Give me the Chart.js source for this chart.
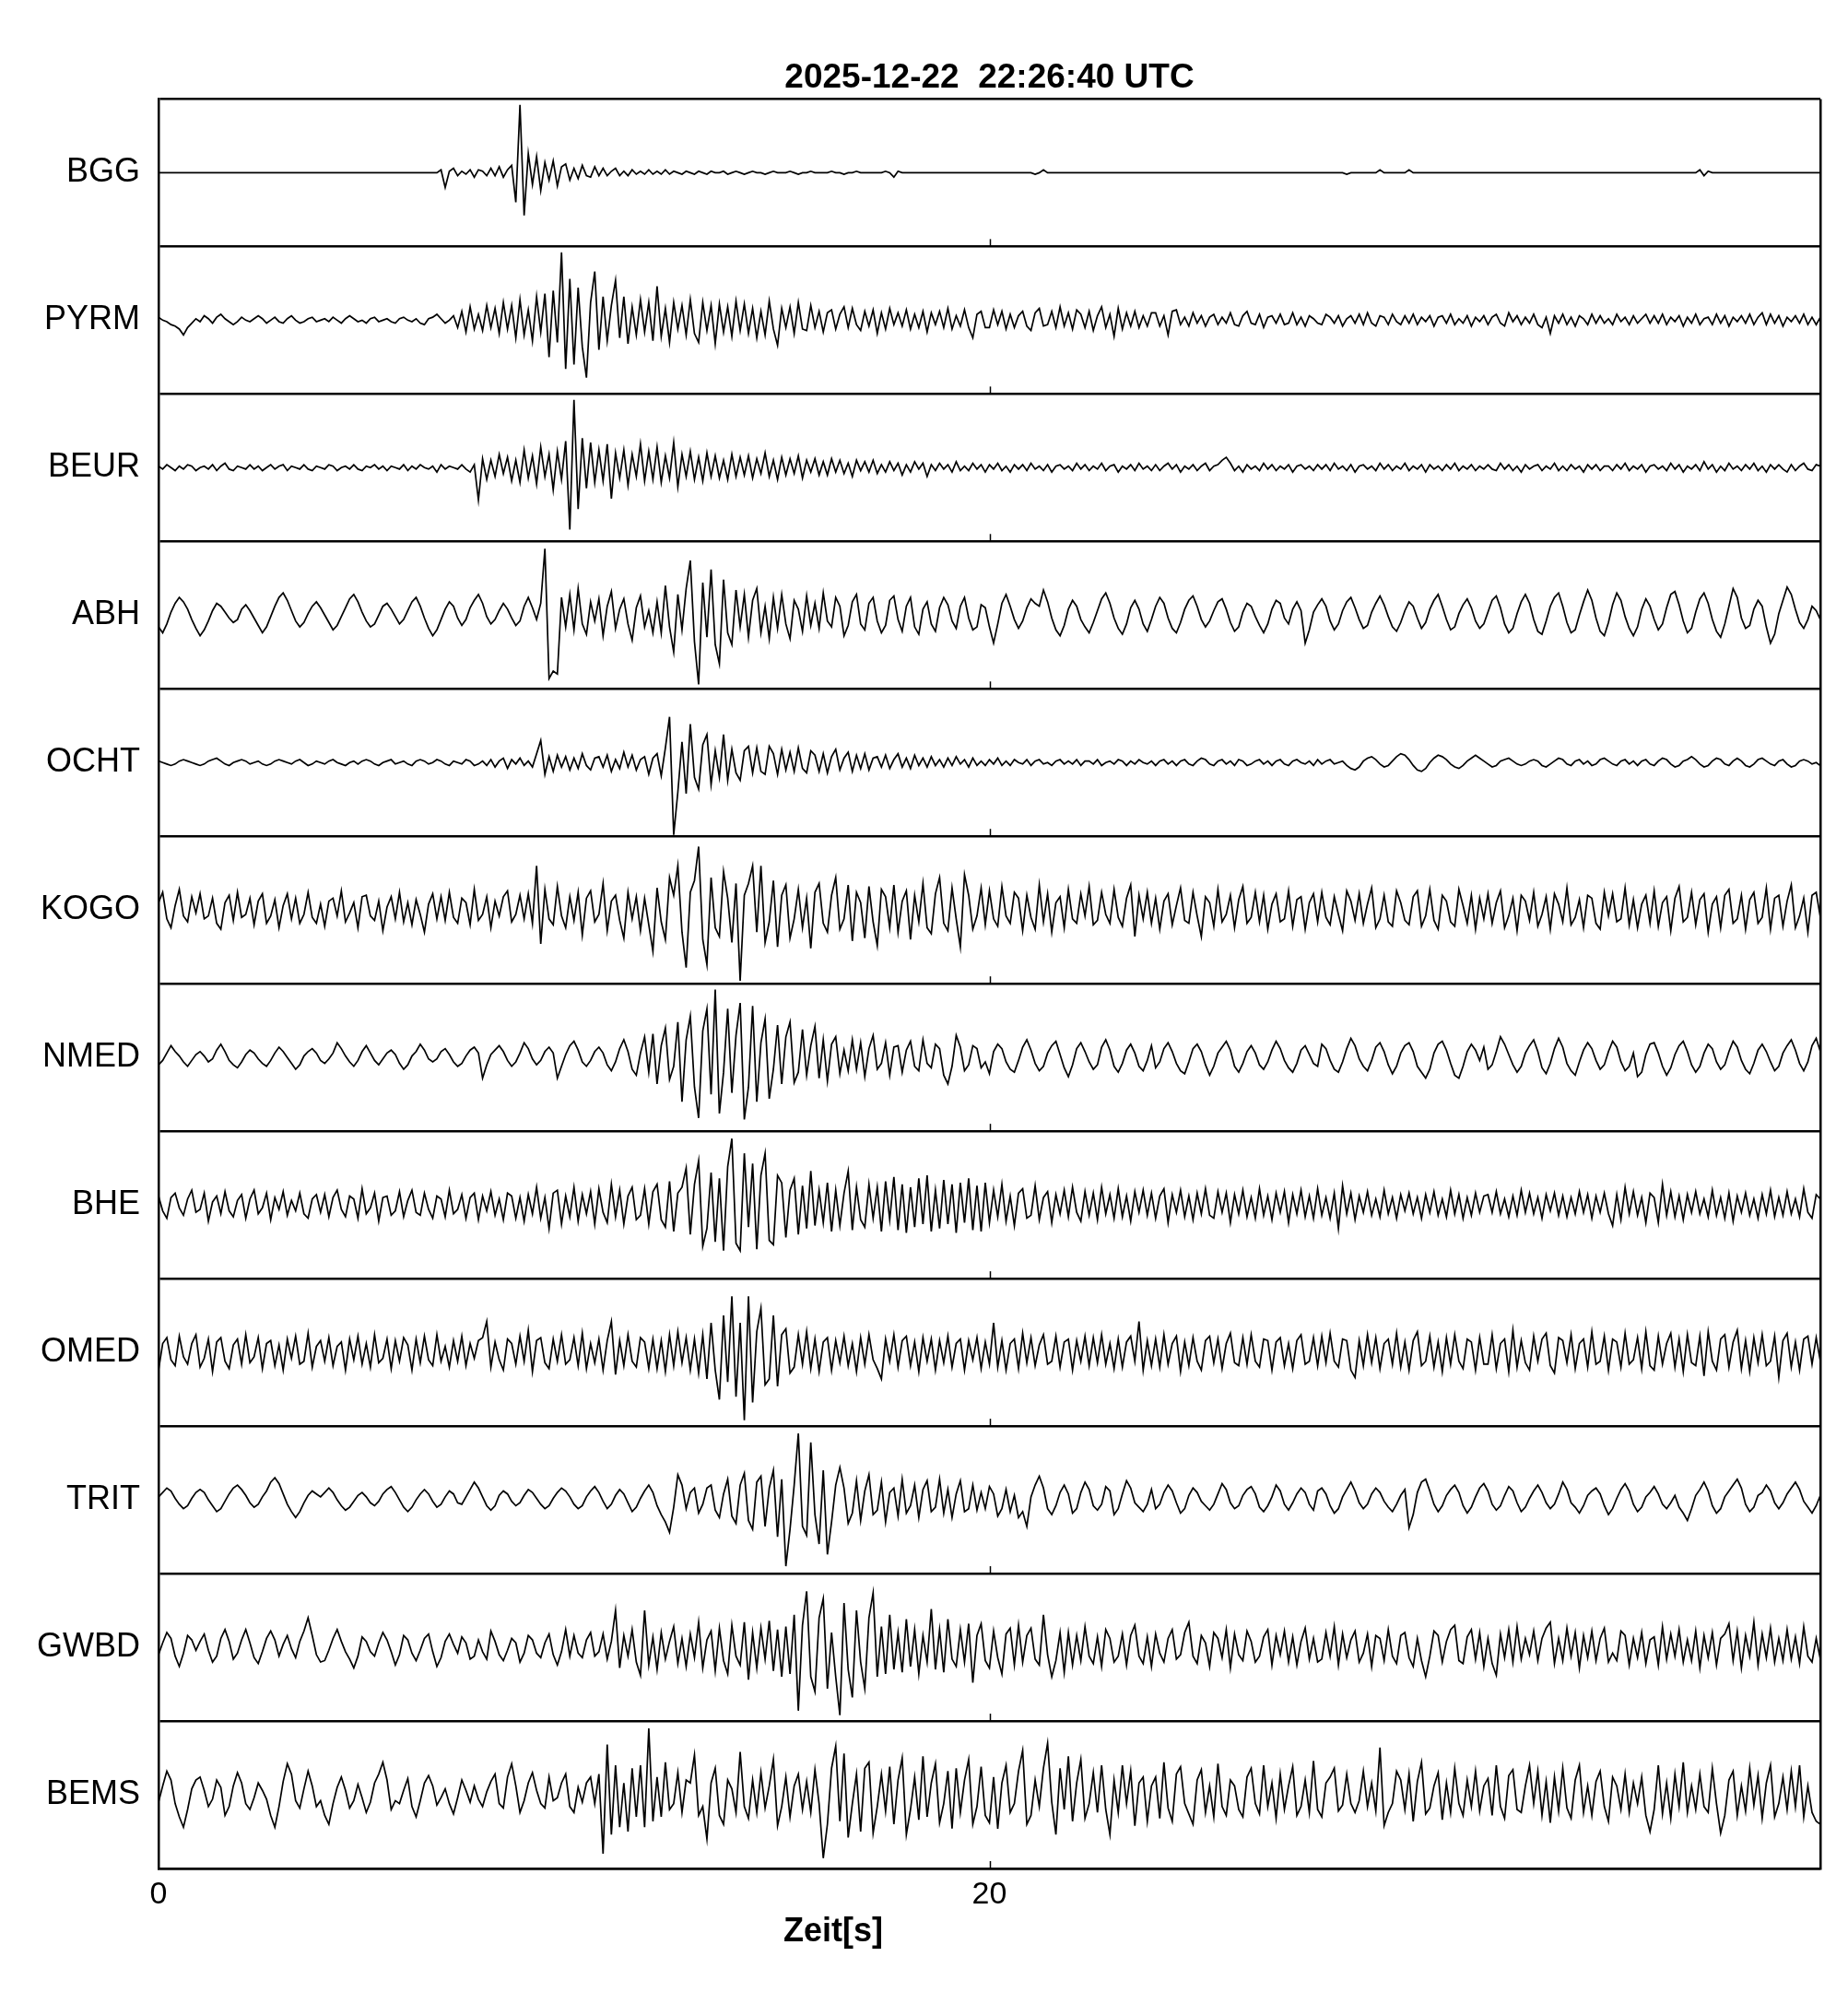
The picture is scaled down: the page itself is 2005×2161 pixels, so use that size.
<!DOCTYPE html>
<html lang="de">
<head>
<meta charset="UTF-8">
<title>Seismogramm 2025-12-22 22:26:40 UTC</title>
<script src="https://cdn.jsdelivr.net/npm/chart.js@4"></script>
<style>
  html, body { margin: 0; padding: 0; background: #fff; }
  canvas { display: block; }
</style>
</head>
<body>
<canvas id="seis" width="2005" height="2161"></canvas>
<script>
// Stationen von oben nach unten
const stations = ['BGG', 'PYRM', 'BEUR', 'ABH', 'OCHT', 'KOGO', 'NMED', 'BHE', 'OMED', 'TRIT', 'GWBD', 'BEMS'];
const titleText = '2025-12-22  22:26:40 UTC';
const xTitle = 'Zeit[s]';
const xTicks = [0, 20, 40];
const xTickLabels = ['0', '20', ''];
const dt = 0.1; // s zwischen zwei Werten, 0 .. 40 s, eine Zeile = 4 s

const bgg = [
  0,0,0,0,0,0,0,0,0,0, 0,0,0,0,0,0,0,0,0,0, 0,0,0,0,0,0,0,0,0,0, 0,0,0,0,0,0,0,0,0,0,
  0,0,0,0,0,0,0,0,0,0, 0,0,0,0,0,0,0,0,0,0, 0,0,0,0,0,0,0,0,2,-10, 1,3,-2,1,-1,2,-3,2,1,-2,
  3,-2,4,-3,2,5,-20,46,-29,13, -8,11,-12,7,-5,8,-9,4,6,-5, 3,-4,5,-2,-3,4,-2,3,-2,1, 3,-2,1,-2,2,-1,1,-1,2,-1,
  1,-1,2,-1,1,0,-1,1,0,-1, 1,0,-1,1,0,0,1,-1,0,1, 0,-1,0,1,0,0,-1,0,1,0, 0,0,1,0,-1,0,0,1,0,0,
  0,0,1,0,0,-1,0,0,1,0, 0,0,0,0,0,1,0,-3,1,0, 0,0,0,0,0,0,0,0,0,0, 0,0,0,0,0,0,0,0,0,0,
  0,0,0,0,0,0,0,0,0,0, 0,-1,0,2,0,0,0,0,0,0, 0,0,0,0,0,0,0,0,0,0, 0,0,0,0,0,0,0,0,0,0,
  0,0,0,0,0,0,0,0,0,0, 0,0,0,0,0,0,0,0,0,0, 0,0,0,0,0,0,0,0,0,0, 0,0,0,0,0,0,0,0,0,0,
  0,0,0,0,0,0,-1,0,0,0, 0,0,0,0,2,0,0,0,0,0, 0,2,0,0,0,0,0,0,0,0, 0,0,0,0,0,0,0,0,0,0,
  0,0,0,0,0,0,0,0,0,0, 0,0,0,0,0,0,0,0,0,0, 0,0,0,0,0,0,0,0,0,0, 0,0,0,0,0,0,0,0,0,0,
  0,0,0,0,0,0,0,0,0,0, 0,2,-2,1,0,0,0,0,0,0, 0,0,0,0,0,0,0,0,0,0, 0,0,0,0,0,0,0,0,0,0,
  0
];
const pyrm = [
  2,0,-1,-3,-4,-6,-10,-5,-2,1, -1,3,1,-2,2,4,1,-1,-3,-1, 2,0,-1,1,3,1,-2,0,2,-1, -2,1,3,0,-2,-1,1,2,-1,0,
  1,-1,2,0,-2,1,3,1,-1,0, -2,1,2,-1,0,1,-1,-2,1,2, 0,-1,1,-2,-3,1,2,4,1,-2, 0,3,-5,6,-8,9,-6,4,-7,10,
  -5,8,-9,12,-6,10,-12,14,-10,7, -14,16,-8,18,-25,20,-15,46,-33,28, -30,22,-18,-39,12,33,-20,16,-14,10, 27,-12,16,-16,9,-10,14,-8,12,-14,
  23,-11,8,-15,12,-6,10,-10,14,-9, -15,12,-7,10,-16,11,-8,9,-11,13, -7,11,-9,8,-12,6,-10,13,-6,-17, 8,-5,9,-9,12,-6,-7,10,-5,6,
  -8,5,7,-6,4,9,-5,8,-3,-7, 6,-4,7,-9,5,-6,8,-3,5,-4, 7,-6,4,-5,6,-8,5,-3,6,-5, 8,-6,3,-4,7,-5,-12,4,6,-5,
  -5,7,-3,6,-6,4,-5,3,6,-4, -7,5,8,-4,-3,6,-5,9,-4,5, -6,7,4,-5,6,-7,3,9,-5,4, -11,8,-6,5,-4,6,-5,3,-4,5,
  5,-4,3,-10,6,7,-3,2,-4,5, -2,3,-4,2,4,-3,2,-2,5,-3, -4,3,6,-2,-3,4,-5,2,3,-2, 4,-3,-2,5,-3,2,-4,3,1,-2,
  -3,4,2,-2,3,-4,1,3,-2,4, -3,5,-2,-4,3,2,-3,4,-1,-3, 3,-2,4,-3,2,-1,3,-4,2,3, -2,4,-3,1,-2,3,-4,2,-1,3,
  -3,2,4,-2,-4,5,-1,3,-3,2, -2,4,-3,-5,2,-9,3,-2,4,-3, 2,-4,3,1,-3,4,-2,3,-2,1, -3,4,-1,2,-3,3,-2,1,4,-2,
  3,-2,4,-3,2,-1,3,-4,2,-2, 4,-3,1,2,-3,4,-2,3,-4,2, -1,3,-2,4,-3,2,5,-3,4,-2, 3,-4,2,-1,3,-2,4,-3,2,-3,
  2
];
const beur = [
  1,-1,2,0,-2,1,-1,2,1,-2, 0,1,-1,2,-2,1,3,-1,-2,1, 0,-1,2,-1,1,-2,0,2,-1,1, 2,-2,1,0,-1,2,-1,-2,1,0,
  -1,2,1,-2,0,1,-1,2,-1,-2, 1,0,2,-1,1,-2,1,0,-1,2, -2,1,-1,2,0,-1,1,-3,2,-1, 1,0,-1,2,-1,-3,2,-22,6,-8,
  5,-6,9,-4,7,-9,5,-10,12,-7, 8,-11,14,-6,9,-15,11,-8,18,-42, 46,-28,20,-14,17,-10,12,-9,16,-21, 10,-7,12,-12,9,-6,16,-9,11,-8,
  14,-10,8,-7,17,-13,9,-6,11,-8, 7,-9,10,-6,8,-7,5,-8,9,-6, 7,-5,8,-7,6,-4,10,-6,5,-8, 7,-5,6,-4,8,-7,5,-3,6,-5,
  4,-5,6,-3,5,-4,3,-6,5,-2, 4,-3,5,-4,2,-3,4,-2,3,-5, 2,-3,4,-1,3,-6,2,-2,3,-1, 2,-3,4,-2,1,-2,3,-1,2,-3,
  2,-1,3,-2,1,-3,2,-1,2,-2, 3,-1,1,-2,2,-3,1,2,-1,1, -2,3,-1,2,-2,1,-1,3,-2,1, 2,-3,1,-1,2,-2,3,-1,1,-2,
  2,-2,1,3,-1,2,-3,1,-1,2, -2,1,3,-2,1,2,5,7,3,-2, 1,-3,2,-1,1,-2,3,-1,2,-2, 1,-1,2,-3,1,2,-1,1,-2,2,
  -1,2,-2,3,-1,1,-2,2,-3,1, 2,-1,1,-2,3,-1,2,-2,1,-1, 3,-2,1,-1,2,-3,2,-1,1,-2, 2,-1,3,-2,1,-1,2,-2,1,-1,
  2,-1,-2,3,-1,2,-2,1,-3,2, -1,1,2,-2,1,-1,3,-2,1,-2, 2,-1,1,-3,2,-1,2,-2,1,1, -2,2,-1,3,-2,1,-1,2,-3,1,
  2,-1,1,-2,3,-1,2,-3,1,-1, 2,-2,4,-1,2,-3,1,-2,3,-1, 1,-2,2,-1,3,-2,1,-3,2,-1, 2,-1,-3,2,-2,1,3,-1,-2,2,
  1
];
const abh = [
  -8,-12,-6,2,8,12,9,4,-3,-9, -14,-10,-4,3,8,6,2,-2,-5,-3, 4,7,3,-2,-7,-12,-8,-1,6,12, 15,10,3,-4,-8,-5,1,6,9,5,
  0,-5,-10,-7,-1,5,11,14,9,2, -4,-8,-6,0,6,8,4,-1,-6,-3, 3,9,12,6,-2,-9,-14,-10,-3,4, 9,6,-2,-7,-3,5,10,14,8,-1,
  -6,-3,3,8,4,-2,-7,-4,6,12, 5,-3,8,45,-43,-38,-40,12,-8,14, -10,18,-6,-13,9,-4,11,-14,6,16, -9,4,11,-6,-17,5,13,-8,3,-12,
  9,-12,20,-8,-25,14,-10,18,37,-18, -47,22,-15,31,-20,-33,24,-12,-20,17, -8,14,-15,10,18,-12,6,-16,12,-9, 14,-6,-16,10,4,-11,13,-7,8,-9,
  15,-4,-8,12,6,-14,-7,9,14,-6, -10,8,12,-4,-12,-7,10,13,-3,-11, 6,12,-8,-13,4,9,-6,-11,5,12, 7,-4,-9,6,12,-2,-10,-8,7,5,
  -8,-19,-6,8,14,6,-3,-9,-4,5, 11,8,6,17,9,-2,-10,-14,-7,4, 10,6,-3,-8,-12,-5,3,11,15,8, -2,-9,-13,-6,5,10,4,-6,-11,-3,
  6,12,8,-2,-9,-12,-5,4,10,13, 6,-3,-8,-4,3,9,11,4,-5,-11, -8,2,8,6,-1,-7,-12,-6,4,10, 8,-2,-6,4,9,3,-19,-10,2,7,
  11,6,-4,-10,-6,3,9,12,5,-3, -9,-7,2,8,13,7,-1,-8,-11,-5, 3,9,6,-2,-9,-5,4,10,14,6, -3,-10,-8,1,7,11,5,-4,-9,-6,
  2,10,13,5,-6,-12,-9,1,9,14, 8,-3,-11,-13,-4,6,12,15,6,-5, -12,-10,0,9,17,10,-2,-11,-14,-5, 7,15,10,-1,-9,-14,-8,4,11,6,
  -3,-10,-6,5,14,16,7,-4,-12,-9, 2,11,15,8,-3,-11,-15,-6,6,18, 12,-2,-9,-7,4,10,6,-8,-19,-13, 1,10,19,14,4,-5,-9,-3,6,3,
  -3
];
const ocht = [
  1,0,-1,-2,-1,1,2,1,0,-1, -2,-1,1,2,3,1,-1,-2,0,1, 2,1,-1,0,1,-1,-2,-1,1,2, 1,0,-1,1,2,0,-2,-1,1,0,
  -1,1,2,0,-1,-2,0,1,-1,1, 2,1,-1,-2,0,1,2,-1,0,1, -1,-2,1,2,1,-1,0,2,1,-1, -2,1,0,-1,2,1,-2,-1,1,-2,
  2,-3,1,3,-4,2,-1,3,-2,1, -3,6,15,-8,4,-6,5,-3,4,-5, 3,-4,6,-2,-5,3,4,-3,5,-6, 2,-4,7,-3,5,-5,2,4,-8,3,
  6,-9,10,31,-49,-20,14,-21,26,-10, -18,12,19,-15,8,-10,19,-12,9,-7, -12,8,11,-7,10,-6,-8,11,6,-8, 9,-5,7,-6,10,-4,-7,8,5,-6,
  6,-7,4,9,-5,3,7,-6,5,-4, 6,-5,3,4,-3,5,-4,2,6,-3, 3,-4,5,-2,3,-3,4,-2,2,-3, 3,-2,4,-1,2,-3,3,-2,1,-2,
  2,-1,3,-2,1,-2,2,0,-1,2, -2,1,2,-1,0,-2,1,2,-1,1, -1,2,-2,1,1,-1,2,-2,0,1, -1,2,1,-2,1,-1,2,0,-1,1,
  -2,1,2,-1,1,-2,1,2,-1,-2, 1,3,2,-1,-2,1,2,-1,1,-2, 2,1,-2,-1,1,2,-1,1,-2,1, 2,-1,-2,1,2,0,-1,1,-2,2,
  -1,1,2,-1,0,1,-2,-4,-5,-3, 1,3,4,2,-1,-3,-2,1,4,6, 5,2,-2,-5,-6,-4,0,3,5,4, 2,-1,-3,-4,-2,1,3,5,3,1,
  -1,-3,-2,1,2,3,1,-1,-2,-1, 1,2,1,-2,-3,-1,1,3,2,-1, -2,1,2,-1,1,-2,-1,2,3,1, -1,-2,1,2,-1,1,-2,1,2,-1,
  -2,1,3,2,-1,-3,-2,1,2,4, 2,-1,-3,-2,1,3,2,-1,-2,1, 3,1,-2,-3,-1,2,3,1,-1,-2, 1,2,-1,-3,-2,1,2,1,-1,0,
  -2
];
const kogo = [
  5,12,-6,-12,3,14,-4,-8,9,-2, 11,-6,-4,8,-9,-13,5,10,-7,12, -5,-3,8,-10,6,11,-9,-4,7,-12, 3,11,-6,8,-9,-3,12,-5,-9,4,
  -11,6,8,-4,13,-8,-2,5,-12,9, 10,-4,-7,6,-14,2,9,-6,12,-8, 5,-10,7,-3,-15,4,11,-6,9,-7, 12,-5,-9,8,5,-10,14,-7,-3,9,
  -12,6,-4,9,13,-8,-3,10,-6,11, -9,30,-23,14,-6,-10,16,-4,-12,9, -7,12,-17,8,13,-8,-3,18,-14,6, 10,-7,-19,12,-6,9,-14,8,-10,-28,
  15,-8,-20,22,10,30,-15,-39,12,20, 43,-20,-37,22,-12,-18,26,8,-22,18, -48,10,18,30,-15,30,-22,-8,20,-25, 10,17,-19,-6,14,-12,8,-26,12,18,
  -9,-15,10,22,-13,-6,17,-21,12,5, -19,16,-8,-24,14,9,-12,17,-15,6, 13,-20,10,-8,18,-12,-16,11,22,-9, -14,15,-6,-25,24,10,-13,-4,15,-10,
  13,-6,-11,16,-4,-9,12,8,-14,10, -5,-13,17,-8,11,-15,5,9,-12,14, -6,-9,11,-4,16,-10,-7,12,-3,-9, 14,-5,-11,8,17,-18,10,-6,12,-9,
  8,-13,6,11,-10,3,15,-7,-9,12, -4,-18,9,5,-11,14,-8,-3,10,-12, 7,16,-9,-5,12,-8,10,-13,4,11, -8,-6,13,-11,7,9,-13,5,11,-8,
  12,-5,-10,9,-3,-14,13,6,-7,11, -9,4,15,-12,-6,10,-8,-11,13,5, -7,-10,9,13,-11,-4,14,-7,-13,10, 6,-8,-11,14,3,-9,10,-13,8,-6,
  11,-9,5,13,-12,-4,8,-14,10,6, -7,12,-11,-3,9,-13,11,4,-8,15, -10,-5,7,-12,10,8,-9,-13,12,-4, 11,-8,-6,15,-10,7,-12,4,10,-9,
  13,-11,5,9,-14,8,16,-8,-5,12, -10,7,11,-15,4,9,-12,10,14,-9, -6,10,-13,7,12,-9,-5,15,-13,8, 10,-11,6,17,-12,-4,8,-15,10,12,
  -5
];
const nmed = [
  -5,-2,3,8,4,1,-3,-6,-2,2, 4,1,-3,-1,5,9,4,-2,-5,-7, -3,2,5,3,-1,-4,-6,-2,3,7, 4,0,-4,-8,-5,1,4,6,3,-2,
  -4,-1,3,10,6,1,-3,-6,-2,4, 8,3,-2,-5,-1,3,5,2,-4,-8, -5,1,4,9,5,-1,-3,-1,4,6, 2,-3,-6,-4,1,5,7,3,-14,-5,
  2,5,8,4,-2,-6,-3,3,10,6, -1,-5,-2,4,7,3,-14,-6,2,8, 11,5,-3,-6,-2,4,7,3,-5,-9, -3,6,12,4,-8,-12,3,14,-10,16,
  -18,8,20,-15,-6,24,-30,12,28,-20, -41,18,33,-25,46,-38,-10,33,-24,15, 37,-42,-20,35,-30,10,26,-28,-8,22, -18,14,24,-17,-10,19,-12,8,21,-14,
  12,-16,9,14,-11,5,-9,12,-8,10, -13,6,15,-8,-4,10,-12,7,8,-10, 5,11,-6,-9,12,-4,-7,9,6,-12, -18,-6,15,7,-9,-5,8,6,-7,-3,
  -11,4,9,6,-3,-8,-10,-2,7,12, 5,-4,-9,-6,3,8,11,2,-7,-13, -5,6,10,4,-3,-8,-5,7,12,5, -6,-10,-4,5,9,3,-6,-9,-2,8,
  -7,-3,6,10,4,-4,-9,-11,-3,6, 9,4,-5,-12,-6,3,7,11,5,-6, -10,-4,4,8,3,-5,-8,-3,5,11, 6,-2,-7,-10,-4,5,8,2,-4,-6,
  9,6,-2,-8,-10,-3,6,13,8,-1, -6,-9,-2,7,10,4,-5,-11,-6,3, 8,10,4,-6,-10,-14,-8,3,9,11, 5,-4,-12,-14,-6,4,9,5,-2,7,
  -8,-5,4,14,9,2,-5,-10,-6,3, 8,12,4,-7,-11,-4,6,13,7,-4, -9,-12,-3,5,10,6,-2,-8,-5,4, 11,7,-3,-9,-6,3,-13,-10,2,9,
  10,3,-6,-12,-7,2,8,11,4,-5, -10,-6,3,9,6,-3,-8,-5,4,11, 7,-2,-8,-11,-4,5,9,4,-3,-9, -6,3,8,12,5,-4,-9,-3,8,13,
  4
];
const bhe = [
  6,-4,-9,5,8,-2,-7,4,10,-5, -3,8,-11,2,6,-6,9,-4,-8,3, 7,-9,4,10,-6,-2,8,-10,5,-3, 9,-7,3,-4,8,-6,-9,4,7,-5,
  7,-8,5,10,-3,-8,6,4,-9,11, -6,-2,8,-11,5,6,-7,-4,9,-8, 3,10,-5,-7,8,-3,-9,6,4,-8, 10,-6,-3,7,-9,5,8,-10,6,-4,
  9,-7,4,-10,8,6,-9,5,-11,7, -6,12,-9,5,-16,8,10,-13,6,-8, 12,-11,7,-6,9,-13,11,-5,-12,14, -8,10,-13,6,12,-10,-7,11,-13,9,
  14,-10,-15,16,-18,8,12,25,-20,14, 30,-28,-16,22,-25,18,-31,26,45,-26, -31,35,-15,28,-30,20,35,-24,-27,20, 15,-22,10,18,-20,13,-16,23,-14,10,
  -12,15,-18,10,-14,8,23,-17,12,-10, -15,14,-9,12,-18,16,-10,19,-17,14, -19,12,-15,18,-13,20,-18,10,-16,17, -13,14,-19,15,-12,18,-17,13,-18,15,
  -12,10,-8,14,-11,6,-14,8,11,-9, -7,13,-10,5,9,-12,7,-6,10,-8, 12,-5,-11,9,-7,8,-10,12,-6,7, -9,11,-8,6,-11,9,-5,10,-7,8,
  -9,6,11,-12,7,-5,10,-8,6,-10, 8,-6,11,-7,-9,9,-5,8,-12,7, -6,10,-8,5,-9,11,-7,6,-10,8, -5,9,-12,7,-6,10,-8,6,-9,11,
  -7,5,-9,8,-16,13,-6,8,-10,6, -5,9,-7,4,-8,10,-6,5,-9,7, -4,8,-6,5,-9,7,-5,9,-7,4, -8,10,-6,7,-9,5,-7,8,-5,6,
  7,-5,9,-6,4,-8,6,-7,10,-5, 8,-6,5,-9,7,-4,8,-7,6,-8, 5,-6,9,-5,7,-9,6,-5,8,-6, -14,7,-10,12,-6,9,-7,5,-12,8,
  5,-12,14,-7,9,-8,6,-10,7,-5, 9,-6,4,-8,10,-7,5,-9,8,-11, 6,-5,8,-7,4,-9,7,-6,10,-8, 5,-7,9,-6,4,-8,11,-5,-9,7,
  4
];
const omed = [
  -12,6,10,-5,-9,11,-3,-8,6,12, -10,-4,9,-13,7,10,-6,-11,5,9, -8,12,-7,-3,10,-11,6,8,-9,5, -12,9,-4,11,-8,-6,13,-10,4,8,
  -6,10,-9,4,7,-12,9,-5,11,-8, 6,-10,12,-7,-4,9,-11,8,-6,10, 5,-12,9,-7,11,-5,-9,12,-6,4, -10,8,-6,11,-9,6,-4,8,10,21,
  -10,7,-5,-12,9,6,-8,11,-6,15, -13,8,10,-7,-11,9,-6,12,-8,-5, 10,-9,13,-11,6,-7,9,-12,8,21, -15,8,-9,12,-6,-10,10,7,-11,9,
  -11,8,-13,12,-9,14,-7,10,-12,9, -14,12,-18,20,-12,-32,25,-20,38,-30, 20,-46,38,-34,14,30,-22,-18,25,-23, 12,16,-14,-10,12,-8,14,-11,9,-13,
  7,10,-12,8,-7,11,-9,6,-13,10, -8,12,-5,-11,-18,9,-6,12,-10,8, 11,-9,7,-13,10,-6,9,-12,8,-7, 11,-10,6,9,-12,8,-5,10,-11,7,
  -8,20,-10,8,-12,6,9,-11,13,-7, 10,-9,5,12,-8,-6,11,-10,7,9, -12,8,-6,11,-9,10,-7,12,-8,6, -11,9,-10,7,11,-6,21,-12,8,-9,
  9,-10,12,-8,6,11,-13,7,-9,10, -6,-12,8,11,-7,9,-11,6,13,-7, -9,10,-8,12,-6,-10,9,8,-12,7, 10,-9,6,-11,8,12,-8,-6,10,-9,
  11,-7,13,-6,-10,9,8,-12,-17,8, -9,12,-7,10,-11,6,9,-8,13,-10, 7,-12,8,14,-9,-6,11,-10,7,-13, 10,-8,12,-6,-11,9,7,-12,10,-8,
  -8,12,-11,6,9,-13,15,-10,8,-7, -12,11,-6,9,13,-9,-14,10,8,-7, 12,-11,6,9,-10,14,-8,-6,11,-12, 9,7,-10,13,-8,-5,10,-11,14,-9,
  -12,11,-8,6,13,-10,9,-13,12,-7, -9,11,-16,14,-6,-12,9,12,-10,7, 15,-11,8,-13,10,-7,12,-9,-6,11, -17,8,13,-10,7,-12,9,11,-8,10,
  -6
];
const trit = [
  2,5,8,6,1,-3,-6,-4,1,5, 7,5,0,-4,-8,-6,-1,4,8,10, 7,3,-2,-5,-3,2,6,12,15,11, 4,-3,-8,-12,-8,-2,3,6,4,2,
  5,8,5,0,-4,-7,-5,-1,3,5, 2,-2,-4,-1,4,7,9,5,0,-5, -8,-5,0,4,7,4,-1,-5,-3,2, 6,4,-2,-3,2,7,12,8,2,-4,
  -7,-4,3,6,4,-1,-4,-2,3,7, 5,1,-3,-6,-4,1,5,8,6,2, -3,-6,-4,2,6,9,5,-1,-6,-3, 3,7,4,-2,-8,-5,1,6,10,5,
  -4,-10,-15,-22,-5,17,10,-6,5,8, -9,-3,8,10,-7,-12,4,14,-11,-16, 10,18,-14,-20,12,16,-18,8,20,-25, 14,-45,-20,10,45,-18,-24,39,-10,-30,
  20,-37,-15,10,22,8,-16,-9,13,-14, 6,17,-10,-7,12,-15,5,8,-11,14, -9,-4,10,-12,7,13,-8,-5,14,-9, 7,-12,4,13,-8,-6,10,-7,5,-6,
  9,4,-11,-6,7,-8,3,-12,-8,-18, 2,10,16,8,-6,-10,-4,5,10,4, -9,-6,5,12,7,-4,-7,-3,9,6, -10,-6,4,13,8,-2,-5,-8,-3,7,
  -6,-3,5,10,6,-2,-9,-6,3,8, 5,-1,-4,-7,-3,4,11,7,-2,-6, -4,3,7,9,4,-5,-8,-4,2,10, 6,-3,-7,-2,4,8,5,-3,-7,6,
  8,4,-4,-9,-6,2,7,12,6,-2, -6,-3,4,8,5,-1,-5,-8,-3,3, 7,-19,-10,5,12,14,6,-3,-8,-4, 3,7,10,5,-4,-9,-5,2,8,11,
  6,-3,-7,-4,3,9,6,-2,-8,-5, 1,6,10,5,-2,-6,-3,4,12,7, -2,-5,-9,-4,3,6,8,4,-4,-10, -6,1,7,11,6,-3,-8,-5,2,5,
  9,4,-3,-6,-2,3,-5,-9,-14,-6, 3,7,12,6,-4,-9,-6,2,6,10, 14,8,-3,-8,-5,3,5,10,6,-2, -6,-2,4,8,12,7,-1,-5,-9,-4,
  3
];
const gwbd = [
  -5,3,10,6,-6,-13,-4,8,5,-2, 4,9,-2,-10,-6,6,12,4,-8,-4, 5,12,3,-7,-11,-3,6,11,5,-6, 2,8,-1,-7,4,11,20,8,-5,-10,
  -9,-2,6,12,4,-3,-8,-14,-6,7, 4,-3,-6,3,10,5,-3,-12,-5,8, 5,-4,-9,-2,6,9,-3,-13,-7,4, 9,2,-4,7,3,-8,-6,5,-3,-8,
  11,4,-5,-9,-2,6,3,-10,-4,8, 5,-4,-7,3,9,-5,-12,-3,12,-6, 8,-4,-7,5,10,-6,-3,9,-8,4, 25,-14,8,-6,12,-10,-19,25,-12,7,
  -15,10,-8,4,14,-11,6,-13,9,-7, 17,-14,5,11,-16,13,-9,-18,15,-6, -12,17,-22,10,-14,13,-8,18,-16,12, -20,14,-18,22,-43,15,38,-20,-30,20,
  33,-28,10,-20,-46,30,-15,-34,25,-10, -28,20,37,-20,14,-18,22,-15,10,-17, 19,-13,12,-18,8,-10,26,-15,12,-17, 19,-8,-13,12,-10,16,-24,8,16,-9,
  -14,11,-7,-18,9,13,-12,15,-10,8, 13,-8,-12,22,-5,-20,-9,10,-17,10, -12,8,-9,14,-6,-11,7,-13,12,6, -10,-6,9,-12,8,15,-6,-11,7,-13,
  9,-4,-10,6,12,-8,-5,10,17,-6, -11,8,3,-13,10,6,-7,12,-14,9, -5,-9,11,4,-10,-6,7,12,-12,8, -5,11,-10,7,-12,4,13,-8,6,-10,
  -8,10,-6,14,-12,9,-7,5,11,-10, -4,9,-13,8,6,-9,12,-6,-11,8, 10,-7,-13,6,-9,-20,-6,11,8,-10, 4,12,15,-9,-11,7,12,-8,10,-13,
  6,-11,-19,9,-7,12,-10,14,-8,6, -5,11,-9,6,13,17,-11,6,-9,13, -6,10,-14,8,-7,11,-9,6,13,-10, -4,-9,11,8,-12,6,-7,10,-11,5,
  7,-12,14,-8,9,-6,12,-10,5,-9, 11,-14,8,-7,10,-12,6,9,16,-9, 11,-14,8,-6,17,-12,9,-7,13,-10, 6,-9,12,-8,7,-11,14,-6,-10,6,
  -8
];
const bems = [
  -5,6,16,10,-6,-15,-22,-10,4,10, 12,3,-8,-3,10,5,-14,-8,6,15, 8,-6,-10,-2,8,3,-3,-14,-22,-8, 9,21,14,-4,-9,4,16,6,-8,-4,
  -14,-20,-6,5,12,3,-9,-4,7,-2, -12,-5,8,14,22,10,-10,-4,-6,3, 11,-8,-15,-4,8,13,6,-7,-2,4, -6,-13,-2,10,3,-5,6,-3,-8,2,
  9,14,-6,-9,12,21,6,-12,-4,8, 15,3,-6,-9,12,-4,-2,8,14,-8, -12,5,-5,8,12,-6,14,-40,34,-27, 20,-22,8,-25,18,-15,20,-22,45,-18,
  12,-15,22,-10,-6,15,-12,10,8,27, -14,-8,-30,8,18,-14,-20,10,4,-12, 29,-8,-16,10,-12,15,-9,6,24,-21, -8,12,-15,6,14,-10,9,-12,17,-6,
  -43,-20,18,33,-18,28,-29,-6,14,-25, 18,22,-26,-8,14,-11,19,-20,10,25, -27,-10,12,-17,26,-15,8,21,-19,-6, 16,-23,18,-12,10,24,-20,-8,19,-14,
  -19,12,-23,8,20,-12,-6,16,30,-20, -14,10,-8,18,35,-5,-27,18,-10,26, -18,8,24,-16,-6,15,-12,20,-10,-27, 10,-12,20,-6,16,-21,8,12,-18,6,
  12,-16,22,-9,-18,14,19,-6,-13,-20, 10,17,-12,6,-15,21,-8,-14,10,6, -10,-15,12,18,-6,-13,20,-8,8,-16, 14,-10,6,19,-14,-8,10,-12,23,-10,
  -15,8,12,18,-11,-7,14,-6,-12,-4, 16,-8,8,-11,32,-21,-12,-6,16,10, -10,14,-18,9,22,-13,-9,6,15,-17, 8,-12,18,-6,-14,10,-8,16,-11,6,
  11,-14,20,-8,-16,13,17,-10,-12,6, 20,-6,16,-14,9,-19,12,-11,18,-9, -16,10,20,-12,6,-14,9,16,-8,-18, 12,6,-10,14,-12,8,-6,12,-14,-25,
  -10,20,-13,8,-16,14,-8,22,-12,6, -10,14,-8,-12,18,-6,-26,-14,10,16, -14,6,-11,18,-7,13,-16,8,20,-15, -6,12,-10,16,-8,20,-15,6,-12,-18,
  -20
];
const traces = [bgg, pyrm, beur, abh, ocht, kogo, nmed, bhe, omed, trit, gwbd, bems];

const n = stations.length;
Chart.defaults.font.family = '"Liberation Sans", Arial, Helvetica, sans-serif';
Chart.defaults.color = '#000';

// jede Spur bekommt ihr eigenes Band der Hoehe 1 auf der y-Achse
const datasets = traces.map((vals, i) => ({
  label: stations[i],
  data: vals.map((v, k) => ({ x: k * dt, y: (n - 0.5 - i) + v / 100 })),
  borderColor: '#000',
  borderWidth: 1.7,
  pointRadius: 0,
  tension: 0,
  fill: false
}));

const extras = {
  id: 'extras',
  afterDraw(chart) {
    const { ctx, chartArea, scales: { x, y } } = chart;
    ctx.save();
    ctx.strokeStyle = '#000';
    ctx.lineWidth = 1.5;
    // kleine Striche nach innen an jeder Spurunterkante
    xTicks.slice(1, -1).forEach(v => {
      const px = Math.round(x.getPixelForValue(v)) + 0.5;
      for (let j = 0; j < n; j++) {
        const py = y.getPixelForValue(j);
        ctx.beginPath();
        ctx.moveTo(px, py);
        ctx.lineTo(px, py - 8);
        ctx.stroke();
      }
    });
    ctx.fillStyle = '#000';
    ctx.font = 'bold 36px "Liberation Sans", Arial, sans-serif';
    ctx.textAlign = 'center';
    ctx.textBaseline = 'middle';
    ctx.fillText(xTitle, chartArea.left + 0.406 * (chartArea.right - chartArea.left), chartArea.bottom + 69);
    ctx.restore();
  }
};

new Chart(document.getElementById('seis'), {
  type: 'line',
  data: { datasets },
  options: {
    responsive: false,
    animation: false,
    devicePixelRatio: 1,
    layout: { padding: { left: 0, right: 30, top: 0, bottom: 0 } },
    plugins: {
      legend: { display: false },
      tooltip: { enabled: false },
      title: {
        display: true,
        text: titleText,
        fullSize: false,
        color: '#000',
        font: { size: 37, weight: 'bold' },
        padding: { top: 63, bottom: 0 }
      }
    },
    scales: {
      x: {
        type: 'linear',
        min: xTicks[0],
        max: xTicks[xTicks.length - 1],
        afterBuildTicks: s => { s.ticks = xTicks.map(v => ({ value: v })); },
        afterFit: s => { s.height = 134; },
        border: { display: true, color: '#000', width: 2.5 },
        grid: {
          drawTicks: false,
          lineWidth: 2.5,
          color: c => (c.tick && c.tick.value === xTicks[xTicks.length - 1]) ? '#000' : 'rgba(0,0,0,0)'
        },
        ticks: {
          autoSkip: false,
          maxRotation: 0,
          padding: 8,
          font: { size: 34 },
          color: '#000',
          callback: (v, i) => xTickLabels[i]
        }
      },
      y: {
        type: 'linear',
        min: 0,
        max: n,
        afterBuildTicks: s => {
          const t = [];
          for (let k = 0; k <= 2 * n; k++) t.push({ value: k / 2 });
          s.ticks = t;
        },
        afterFit: s => { s.width = 172; },
        border: { display: true, color: '#000', width: 2.5 },
        grid: {
          drawTicks: false,
          lineWidth: 2.5,
          color: c => (c.tick && Number.isInteger(c.tick.value)) ? '#000' : 'rgba(0,0,0,0)'
        },
        ticks: {
          autoSkip: false,
          padding: 20,
          font: { size: 36 },
          color: '#000',
          callback: v => Number.isInteger(v) ? '' : stations[Math.round(n - 0.5 - v)]
        }
      }
    }
  },
  plugins: [extras]
});
</script>
</body>
</html>
